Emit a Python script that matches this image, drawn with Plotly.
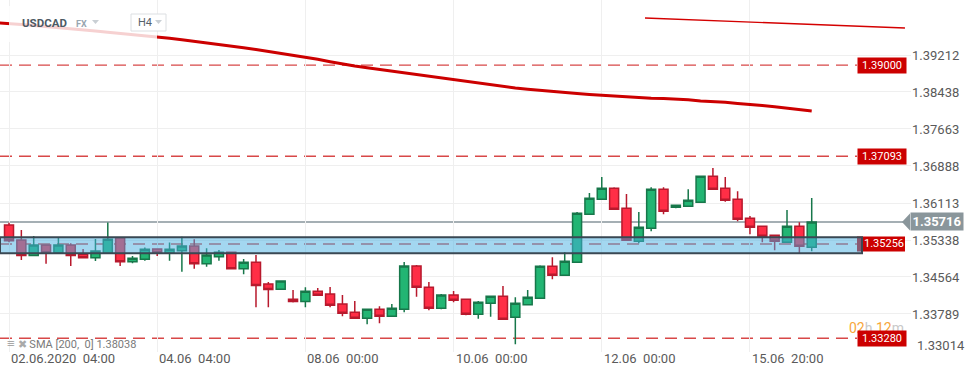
import plotly.graph_objects as go

# ---------------- data ----------------
idx = list(range(66))
opens = [1.35652,1.35338,1.35014,1.35234,1.35072,1.35234,1.35039,1.34968,1.35060,1.35386,
         1.34884,1.34934,1.35150,1.35060,1.35114,1.35213,1.34842,1.34989,1.35081,1.34737,
         1.34871,1.34417,1.34306,1.34097,1.34050,1.34264,1.34208,1.33998,1.33824,1.33699,
         1.33887,1.33741,1.33887,1.34794,1.34348,1.33908,1.34187,1.34097,1.33783,1.34013,
         1.34159,1.33720,1.33984,1.34118,1.34788,1.34599,1.34871,1.35876,1.36190,1.36421,
         1.36002,1.35311,1.35583,1.36400,1.36023,1.36044,1.36128,1.36672,1.36421,1.36190,
         1.35793,1.35625,1.35437,1.35290,1.35625,1.35185]
highs = [1.35700,1.35548,1.35422,1.35240,1.35386,1.35269,1.35150,1.35359,1.35705,1.35395,
         1.35003,1.35181,1.35155,1.35286,1.35407,1.35353,1.35164,1.35129,1.35085,1.34940,
         1.35024,1.34459,1.34485,1.34291,1.34350,1.34333,1.34354,1.34187,1.34061,1.33892,
         1.33950,1.33998,1.34878,1.34815,1.34459,1.34208,1.34270,1.34100,1.34061,1.34165,
         1.34375,1.34138,1.34291,1.34808,1.34976,1.35087,1.35925,1.36322,1.36657,1.36442,
         1.36301,1.35925,1.36442,1.36442,1.36070,1.36400,1.36678,1.36846,1.36657,1.36358,
         1.35841,1.35630,1.35440,1.35966,1.35709,1.36218]
lows = [1.35290,1.34920,1.35005,1.34842,1.35065,1.34794,1.34960,1.34899,1.35055,1.34794,
        1.34850,1.34905,1.35003,1.34903,1.34674,1.34737,1.34779,1.34905,1.34733,1.34620,
        1.33929,1.33929,1.34300,1.34030,1.33929,1.34175,1.33929,1.33741,1.33694,1.33573,
        1.33594,1.33736,1.33824,1.34151,1.33866,1.33887,1.34034,1.33762,1.33690,1.33732,
        1.33672,1.33154,1.33978,1.34112,1.34515,1.34595,1.34866,1.35870,1.36185,1.35975,
        1.35325,1.35269,1.35520,1.35876,1.36002,1.36040,1.36113,1.36395,1.36140,1.35730,
        1.35458,1.35290,1.35123,1.35285,1.35060,1.35102]
closes = [1.35325,1.35014,1.35234,1.35072,1.35234,1.35014,1.34968,1.35108,1.35353,1.34884,
          1.34955,1.35144,1.35072,1.35144,1.35213,1.34842,1.35024,1.35081,1.34737,1.34871,
          1.34385,1.34300,1.34480,1.34050,1.34264,1.34180,1.33971,1.33803,1.33699,1.33887,
          1.33741,1.33908,1.34794,1.34348,1.33908,1.34187,1.34076,1.33783,1.34034,1.34159,
          1.33678,1.34013,1.34138,1.34788,1.34599,1.34892,1.35897,1.36211,1.36421,1.35981,
          1.35332,1.35604,1.36400,1.35939,1.36065,1.36170,1.36672,1.36400,1.36170,1.35772,
          1.35604,1.35416,1.35311,1.35625,1.35206,1.35716]

sma_idx = list(range(-1, 66))
sma = [1.39886,1.39872,1.39848,1.39828,1.39807,1.39788,1.39765,1.39740,1.39715,1.39687,
       1.39664,1.39641,1.39614,1.39589,1.39562,1.39530,1.39499,1.39463,1.39430,1.39396,
       1.39363,1.39327,1.39289,1.39250,1.39212,1.39170,1.39122,1.39072,1.39024,1.38982,
       1.38944,1.38908,1.38871,1.38835,1.38797,1.38762,1.38724,1.38689,1.38651,1.38615,
       1.38580,1.38546,1.38521,1.38494,1.38469,1.38446,1.38425,1.38406,1.38387,1.38368,
       1.38353,1.38337,1.38322,1.38307,1.38301,1.38291,1.38274,1.38249,1.38238,1.38222,
       1.38196,1.38180,1.38155,1.38127,1.38102,1.38075,1.38038]

trend_x = [51.5, 72.55]
trend_y = [1.39987, 1.39777]

level_prices = [1.39000, 1.37093, 1.35256, 1.33280]
level_labels = ["1.39000", "1.37093", "1.35256", "1.33280"]
zone_top, zone_bottom = 1.35395, 1.35060
last_price, last_label = 1.35716, "1.35716"

ytick_vals = [1.39212, 1.38438, 1.37663, 1.36888, 1.36113, 1.35338, 1.34564, 1.33789, 1.33014]
ytick_text = ["1.39212", "1.38438", "1.37663", "1.36888", "1.36113", "1.35338", "1.34564", "1.33789", "1.33014"]
xtick_vals = [0, 12, 24, 36, 48, 60]
xtick_text = ["02.06.2020  04:00", "04.06  04:00", "08.06  00:00", "10.06  00:00", "12.06  00:00", "15.06  20:00"]

# ---------------- geometry ----------------
W, H = 974, 376
PL, PR, PT, PB = 0, 911, 0, 352          # plot area in pixels
XR = [-0.729, 73.04]
YR = [1.32993, 1.403636]
FONT = "Roboto"

def pxx(px):  # pixel x -> paper
    return (px - PL) / (PR - PL)

def pxy(py):  # pixel y -> paper
    return 1 - (py - PT) / (PB - PT)

def price_to_py(p):
    return PT + (YR[1] - p) / (YR[1] - YR[0]) * (PB - PT)

fig = go.Figure()

fig.add_trace(go.Candlestick(
    x=idx, open=opens, high=highs, low=lows, close=closes,
    increasing=dict(fillcolor="#22b573", line=dict(color="#17774a", width=1.5)),
    decreasing=dict(fillcolor="#ff2e46", line=dict(color="#b8192d", width=1.5)),
    whiskerwidth=0, showlegend=False, hoverinfo="skip"))

fig.add_trace(go.Scatter(x=sma_idx, y=sma, mode="lines",
                         line=dict(color="#cc0000", width=3), showlegend=False, hoverinfo="skip"))
fig.add_trace(go.Scatter(x=trend_x, y=trend_y, mode="lines",
                         line=dict(color="#d40000", width=1.3), showlegend=False, hoverinfo="skip"))

shapes = []
shapes.append(dict(type="line", xref="paper", yref="y", x0=0, x1=pxx(903), y0=last_price, y1=last_price,
                   line=dict(color="#87959b", width=1.5), layer="below"))
for p in level_prices:
    shapes.append(dict(type="line", xref="paper", yref="y", x0=0, x1=pxx(857), y0=p, y1=p,
                       line=dict(color="rgba(205,20,20,0.78)", width=1.4, dash="12px,7px"), layer="below"))
zp = price_to_py(level_prices[2])
shapes.append(dict(type="rect", xref="paper", yref="paper", x0=pxx(857), x1=pxx(905),
                   y0=pxy(zp + 7.5), y1=pxy(zp - 7.5), fillcolor="#cc0000", line=dict(width=0), layer="above"))
shapes.append(dict(type="rect", xref="paper", yref="y", x0=0, x1=pxx(862), y0=zone_bottom, y1=zone_top,
                   fillcolor="rgba(72,176,226,0.5)", line=dict(color="#3a4853", width=2), layer="above"))
shapes.append(dict(type="rect", xref="paper", yref="paper", x0=pxx(9), x1=pxx(157), y0=pxy(42), y1=pxy(6),
                   fillcolor="rgba(255,255,255,0.82)", line=dict(width=0), layer="above"))
shapes.append(dict(type="rect", xref="paper", yref="paper", x0=pxx(131), x1=pxx(166), y0=pxy(31), y1=pxy(14),
                   fillcolor="white", line=dict(color="#dcdfe2", width=1), layer="above"))
for tx in (92, 155):
    shapes.append(dict(type="path", xref="paper", yref="paper",
                       path=f"M {pxx(tx)},{pxy(20)} L {pxx(tx+7)},{pxy(20)} L {pxx(tx+3.5)},{pxy(24)} Z",
                       fillcolor="#c9cfd4", line=dict(width=0), layer="above"))
lp = price_to_py(last_price)
shapes.append(dict(type="path", xref="paper", yref="paper",
                   path=f"M {pxx(902)},{pxy(lp)} L {pxx(910)},{pxy(lp-8.5)} L {pxx(910)},{pxy(lp+8.5)} Z",
                   fillcolor="#8a969b", line=dict(width=0), layer="above"))

ann = []
for v, t in zip(xtick_vals, xtick_text):
    ann.append(dict(x=v, xref="x", y=pxy(359), yref="paper", text=t.replace("  ", "\u00a0\u00a0"),
                    showarrow=False, xanchor="left", yanchor="middle", xshift=0,
                    font=dict(family=FONT, size=13, color="#5a5a5a")))
ann.append(dict(x=pxx(915), xref="paper", y=pxy(345), yref="paper", text=ytick_text[-1], showarrow=False,
                xanchor="left", yanchor="middle", font=dict(family=FONT, size=13, color="#5a5a5a")))
ann.append(dict(x=pxx(847), xref="paper", y=pxy(328), yref="paper",
                text="<span style='color:#f7a73a'>02</span><span style='color:#c9c9c9'>h</span> "
                     "<span style='color:#f7a73a'>12</span><span style='color:#c9c9c9'>m</span>",
                showarrow=False, xanchor="left", yanchor="middle", font=dict(family=FONT, size=14)))
for p, t, i in zip(level_prices, level_labels, range(4)):
    if i == 2:
        ann.append(dict(x=pxx(884), xref="paper", y=p, yref="y", text=t, showarrow=False,
                        xanchor="center", yanchor="middle", font=dict(family=FONT, size=11, color="white")))
    else:
        ann.append(dict(x=pxx(857), xref="paper", y=p, yref="y", text=t, showarrow=False,
                        xanchor="left", yanchor="middle", bgcolor="#cc0000", width=46, height=13, borderpad=1,
                        align="center", font=dict(family=FONT, size=11, color="white")))
ann.append(dict(x=pxx(910), xref="paper", y=last_price, yref="y", text="<b>" + last_label + "</b>",
                showarrow=False, xanchor="left", yanchor="middle", bgcolor="#8a969b", width=50, height=15,
                borderpad=1, align="center", font=dict(family=FONT, size=13, color="white")))
ann.append(dict(x=pxx(20), xref="paper", y=pxy(23), yref="paper", text="<b>USDCAD</b>", showarrow=False,
                xanchor="left", yanchor="middle", font=dict(family=FONT, size=11.5, color="#4d5a64")))
ann.append(dict(x=pxx(74), xref="paper", y=pxy(24), yref="paper", text="<b>FX</b>", showarrow=False,
                xanchor="left", yanchor="middle", font=dict(family=FONT, size=9, color="#98a6b0")))
ann.append(dict(x=pxx(136), xref="paper", y=pxy(23), yref="paper", text="H4", showarrow=False,
                xanchor="left", yanchor="middle", font=dict(family=FONT, size=11, color="#56626b")))
ann.append(dict(x=pxx(5), xref="paper", y=pxy(343), yref="paper",
                text="<span style='font-size:14px;color:#999'>\u2261</span> "
                     "<span style='font-size:11px;color:#aaa'>\u2716</span> SMA [200,\u00a0 0] 1.38038",
                showarrow=False, xanchor="left", yanchor="middle",
                font=dict(family=FONT, size=11, color="#7a7a7a")))

fig.update_layout(
    width=W, height=H, margin=dict(l=PL, r=W - PR, t=PT, b=H - PB, autoexpand=False),
    paper_bgcolor="white", plot_bgcolor="white",
    boxgap=0.27, boxgroupgap=0,
    shapes=shapes, annotations=ann, showlegend=False,
    xaxis=dict(range=XR, tickvals=xtick_vals, showticklabels=False, showgrid=True, gridcolor="#efefef",
               gridwidth=1, zeroline=False, showline=False, ticks="", rangeslider=dict(visible=False),
               fixedrange=True),
    yaxis=dict(range=YR, side="right", tickvals=ytick_vals, ticktext=ytick_text[:-1] + [""],
               showgrid=True, gridcolor="#efefef", zeroline=False, showline=False, ticks="",
               tickfont=dict(family=FONT, size=13, color="#5a5a5a"), fixedrange=True),
)

fig.write_html("out.html", config={"displayModeBar": False},
               post_script="document.body.style.margin='0';document.body.style.padding='0';")
